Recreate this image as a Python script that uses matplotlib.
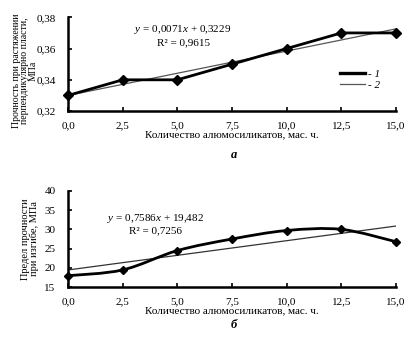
#! /usr/bin/env python3

import numpy as np
import matplotlib
matplotlib.use('Agg')
import matplotlib.pyplot as plt
from matplotlib.path import Path
from matplotlib.patches import PathPatch
from matplotlib.lines import Line2D

plt.rcParams['font.family'] = ['Liberation Serif', 'DejaVu Serif']
plt.rcParams['mathtext.fontset'] = 'custom'
plt.rcParams['mathtext.rm'] = 'Liberation Serif'
plt.rcParams['mathtext.it'] = 'Liberation Serif:italic'

# amount of aluminosilicates, mass parts
x_amount = [0.0, 2.5, 5.0, 7.5, 10.0, 12.5, 15.0]
x_ticks = ['0,0', '2,5', '5,0', '7,5', '10,0', '12,5', '15,0']

# (a) tensile strength perpendicular to plate, MPa
tensile = [0.33, 0.34, 0.34, 0.35, 0.36, 0.37, 0.37]
tensile_coef = [0.0071, 0.3229]   # trend over point index 1..7
tensile_ticks = [0.32, 0.34, 0.36, 0.38]
tensile_labels = ['0,32', '0,34', '0,36', '0,38']

# (b) bending strength, MPa
bending = [18.0, 19.5, 24.5, 27.5, 29.7, 30.0, 26.8]
bending_coef = [0.7586, 19.482]   # trend over x
bending_ticks = [15, 20, 25, 30, 35, 40]


def smooth_path(xs, ys):
    """
    Catmull-Rom style bezier path through the points (like a smoothed excel line)
    """
    xs = np.asarray(xs, float)
    ys = np.asarray(ys, float)
    n = len(xs)
    verts = [(xs[0], ys[0])]
    codes = [Path.MOVETO]
    for i in range(n - 1):
        p0 = (xs[max(i - 1, 0)], ys[max(i - 1, 0)])
        p1 = (xs[i], ys[i])
        p2 = (xs[i + 1], ys[i + 1])
        p3 = (xs[min(i + 2, n - 1)], ys[min(i + 2, n - 1)])
        c1 = (p1[0] + (p2[0] - p0[0]) / 6, p1[1] + (p2[1] - p0[1]) / 6)
        c2 = (p2[0] - (p3[0] - p1[0]) / 6, p2[1] - (p3[1] - p1[1]) / 6)
        verts += [c1, c2, p2]
        codes += [Path.CURVE4] * 3
    return Path(verts, codes)


def style_axes(ax):
    for s in ['top', 'right']:
        ax.spines[s].set_visible(False)
    for s in ['left', 'bottom']:
        ax.spines[s].set_linewidth(1.8)
    ax.tick_params(direction='in', length=3, width=1.2, labelsize=8)
    ax.tick_params(axis='y', pad=9)
    ax.tick_params(axis='x', pad=7)
    ax.set_xlim(0, 15)
    ax.set_xticks(x_amount)
    ax.set_xticklabels(x_ticks)
    ax.set_xlabel('Количество алюмосиликатов, мас. ч.', fontsize=8, labelpad=0)


fig = plt.figure(figsize=(4.11, 3.46), dpi=100)

# ---- panel a
ax1 = fig.add_axes([0.1655, 0.679, 0.798, 0.271])
style_axes(ax1)
ax1.set_ylim(0.32, 0.38)
ax1.set_yticks(tensile_ticks)
ax1.set_yticklabels(tensile_labels)
idx = np.arange(1, len(x_amount) + 1)
trend1 = tensile_coef[0] * idx[[0, -1]] + tensile_coef[1]
ax1.plot([x_amount[0], x_amount[-1]], trend1, color='#555555', lw=0.9, zorder=2)
ax1.plot(x_amount, tensile, color='black', lw=2.0, marker='D', ms=5.5, zorder=3,
         clip_on=False)
ax1.text(5.26, 0.3719, r'$y$ = 0,0071$x$ + 0,3229', ha='center', va='center',
         fontsize=8)
ax1.text(5.26, 0.3638, 'R² = 0,9615', ha='center', va='center', fontsize=8)
ax1.set_ylabel('Прочность при растяжении\nперпендикулярно пласти,\nМПа',
               fontsize=7, linespacing=0.95)
ax1.yaxis.set_label_coords(-0.092, 0.43)
handles = [Line2D([], [], color='black', lw=2.4),
           Line2D([], [], color='#555555', lw=0.9)]
ax1.legend(handles, ['- 1', '- 2'], loc='center left',
           bbox_to_anchor=(0.8, 0.34), frameon=False,
           prop={'size': 8, 'style': 'italic'},
           handlelength=2.2, handletextpad=0.3, labelspacing=0.1)
fig.text(0.57, 0.552, 'а', style='italic', weight='bold', fontsize=9,
         ha='center', va='center')

# ---- panel b
ax2 = fig.add_axes([0.1655, 0.1697, 0.798, 0.279])
style_axes(ax2)
ax2.set_ylim(15, 40)
ax2.set_yticks(bending_ticks)
trend2 = bending_coef[0] * np.array([x_amount[0], x_amount[-1]]) + bending_coef[1]
ax2.plot([x_amount[0], x_amount[-1]], trend2, color='#333333', lw=0.9, zorder=2)
ax2.add_patch(PathPatch(smooth_path(x_amount, bending), facecolor='none',
                        edgecolor='black', lw=2.0, zorder=3))
ax2.plot(x_amount, bending, ls='none', color='black', marker='D', ms=4.5,
         zorder=4, clip_on=False)
ax2.text(3.98, 32.9, r'$y$ = 0,7586$x$ + 19,482', ha='center', va='center',
         fontsize=8)
ax2.text(3.98, 29.7, 'R² = 0,7256', ha='center', va='center', fontsize=8)
ax2.set_ylabel('Предел прочности\nпри изгибе, МПа', fontsize=7.5, labelpad=4,
               linespacing=0.95)
fig.text(0.57, 0.061, 'б', style='italic', weight='bold', fontsize=9,
         ha='center', va='center')

fig.savefig('out.png', dpi=100)
